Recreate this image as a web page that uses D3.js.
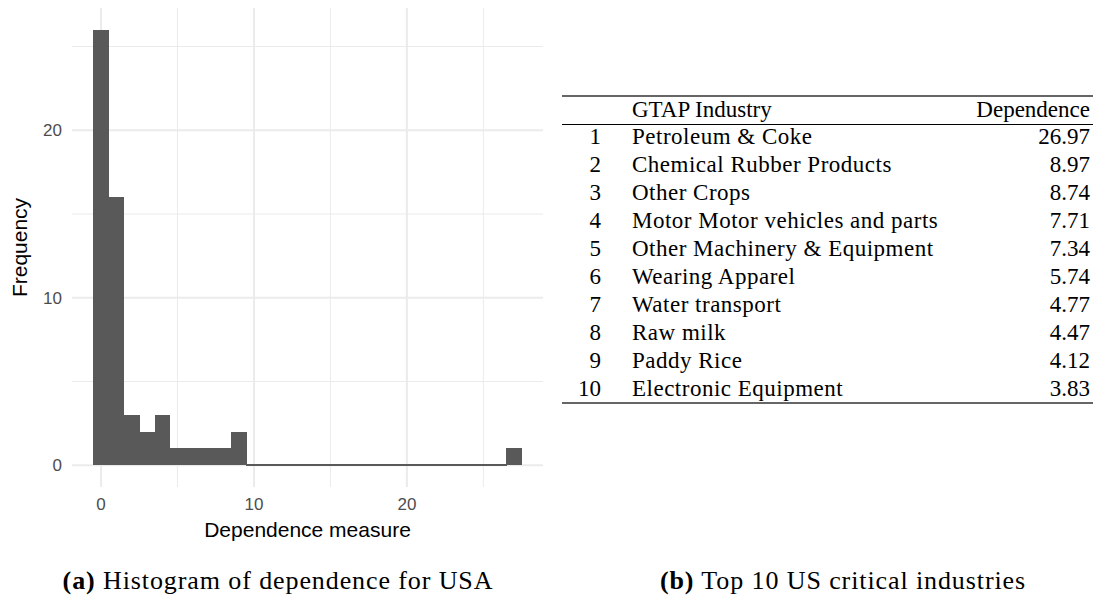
<!DOCTYPE html>
<html>
<head>
<meta charset="utf-8">
<script src="https://cdn.jsdelivr.net/npm/d3@7/dist/d3.min.js"></script>
<style>
  body { margin: 0; background: #fff; }
  svg { display: block; }
</style>
</head>
<body>
<svg id="fig" width="1100" height="599"></svg>
<script>
// Histogram: bins of width 1 centred on the integers.
const binCentres = [0, 1, 2, 3, 4, 5, 6, 7, 8, 9, 10, 11, 12, 13, 14, 15, 16, 17, 18, 19, 20, 21, 22, 23, 24, 25, 26, 27];
const binCounts  = [26, 16, 3, 2, 3, 1, 1, 1, 1, 2, 0, 0, 0, 0, 0, 0, 0, 0, 0, 0, 0, 0, 0, 0, 0, 0, 0, 1];
const xTicks = [0, 10, 20];
const yTicks = [0, 10, 20];

// Table: top 10 industries.
const ranks = [1, 2, 3, 4, 5, 6, 7, 8, 9, 10];
const industries = ["Petroleum & Coke", "Chemical Rubber Products", "Other Crops",
  "Motor Motor vehicles and parts", "Other Machinery & Equipment", "Wearing Apparel",
  "Water transport", "Raw milk", "Paddy Rice", "Electronic Equipment"];
const dependence = [26.97, 8.97, 8.74, 7.71, 7.34, 5.74, 4.77, 4.47, 4.12, 3.83];

const svg = d3.select("#fig");
const sans = "'Liberation Sans', Arial, sans-serif";
const serif = "'Liberation Serif', 'Times New Roman', serif";

// ---- histogram panel ----
const panel = { left: 72, right: 543, top: 8, bottom: 487 };
const binW = 1;
const xMin = d3.min(binCentres) - binW / 2, xMax = d3.max(binCentres) + binW / 2;
const xPad = (xMax - xMin) * 0.05;
const x = d3.scaleLinear().domain([xMin - xPad, xMax + xPad]).range([panel.left, panel.right]);
const yPad = d3.max(binCounts) * 0.05;
const y = d3.scaleLinear().domain([-yPad, d3.max(binCounts) + yPad]).range([panel.bottom, panel.top]);

const grid = svg.append("g").attr("stroke", "#ebebeb").attr("fill", "none");
// minor lines half way between the major ticks
const xMinor = xTicks.map(t => t + 5);
const yMinor = yTicks.map(t => t + 5);
grid.selectAll(".xmin").data(xMinor).join("line")
    .attr("x1", d => x(d)).attr("x2", d => x(d))
    .attr("y1", panel.top).attr("y2", panel.bottom).attr("stroke-width", 1);
grid.selectAll(".ymin").data(yMinor).join("line")
    .attr("y1", d => y(d)).attr("y2", d => y(d))
    .attr("x1", panel.left).attr("x2", panel.right).attr("stroke-width", 1);
grid.selectAll(".xmaj").data(xTicks).join("line")
    .attr("x1", d => x(d)).attr("x2", d => x(d))
    .attr("y1", panel.top).attr("y2", panel.bottom).attr("stroke-width", 2);
grid.selectAll(".ymaj").data(yTicks).join("line")
    .attr("y1", d => y(d)).attr("y2", d => y(d))
    .attr("x1", panel.left).attr("x2", panel.right).attr("stroke-width", 2);

// bars (empty bins still leave a hairline at zero, as in the original)
svg.append("g").attr("fill", "#595959").attr("shape-rendering", "crispEdges")
  .selectAll("rect").data(binCentres).join("rect")
    .attr("x", d => x(d - binW / 2))
    .attr("width", d => x(d + binW / 2) - x(d - binW / 2) + 0.5)
    .attr("y", (d, i) => binCounts[i] ? y(binCounts[i]) : y(0) - 1)
    .attr("height", (d, i) => binCounts[i] ? y(0) - y(binCounts[i]) : 1.5);

// axis labels
svg.append("g").selectAll("text").data(yTicks).join("text")
    .attr("x", 62).attr("y", d => y(d)).attr("dy", "0.36em")
    .attr("text-anchor", "end")
    .style("font", `17px ${sans}`).attr("fill", "#4d4d4d")
    .text(d => d);
svg.append("g").selectAll("text").data(xTicks).join("text")
    .attr("x", d => x(d)).attr("y", 510)
    .attr("text-anchor", "middle")
    .style("font", `17px ${sans}`).attr("fill", "#4d4d4d")
    .text(d => d);
svg.append("text")
    .attr("x", (panel.left + panel.right) / 2).attr("y", 537)
    .attr("text-anchor", "middle")
    .style("font", `21px ${sans}`).attr("fill", "#000")
    .text("Dependence measure");
svg.append("text")
    .attr("transform", `translate(27,${(panel.top + panel.bottom) / 2}) rotate(-90)`)
    .attr("text-anchor", "middle")
    .style("font", `21px ${sans}`).attr("fill", "#000")
    .text("Frequency");

// ---- table ----
const tbl = { left: 562, right: 1093, numRight: 601, nameLeft: 632, valRight: 1090 };
const rowY = d3.scaleLinear().domain([1, 10]).range([144, 396]);
const tfont = `23px ${serif}`;

svg.append("line").attr("x1", tbl.left).attr("x2", tbl.right)
    .attr("y1", 96).attr("y2", 96).attr("stroke", "#333").attr("stroke-width", 1.6);
svg.append("line").attr("x1", tbl.left).attr("x2", tbl.right)
    .attr("y1", 124.5).attr("y2", 124.5).attr("stroke", "#000").attr("stroke-width", 1);
svg.append("line").attr("x1", tbl.left).attr("x2", tbl.right)
    .attr("y1", 403).attr("y2", 403).attr("stroke", "#333").attr("stroke-width", 1.6);

const head = svg.append("g").style("font", tfont).attr("fill", "#000");
head.append("text").attr("x", tbl.nameLeft).attr("y", 117).text("GTAP Industry");
head.append("text").attr("x", tbl.valRight).attr("y", 117).attr("text-anchor", "end")
    .text("Dependence");

const rows = svg.append("g").style("font", tfont).attr("fill", "#000");
rows.selectAll(".rk").data(ranks).join("text")
    .attr("x", tbl.numRight).attr("y", d => rowY(d)).attr("text-anchor", "end").text(d => d);
rows.selectAll(".nm").data(industries).join("text")
    .attr("x", tbl.nameLeft).attr("y", (d, i) => rowY(ranks[i]))
    .style("letter-spacing", "0.5px").text(d => d);
rows.selectAll(".vl").data(dependence).join("text")
    .attr("x", tbl.valRight).attr("y", (d, i) => rowY(ranks[i])).attr("text-anchor", "end")
    .text(d => d.toFixed(2));

// ---- captions ----
const captions = [
  { tag: "(a)", text: " Histogram of dependence for USA", cx: 278 },
  { tag: "(b)", text: " Top 10 US critical industries", cx: 843 }
];
const cap = svg.append("g").selectAll("text").data(captions).join("text")
    .attr("x", d => d.cx).attr("y", 589).attr("text-anchor", "middle")
    .style("font", `26px ${serif}`).style("letter-spacing", "0.9px").attr("fill", "#000");
cap.append("tspan").attr("font-weight", "bold").text(d => d.tag);
cap.append("tspan").text(d => d.text);
</script>
</body>
</html>
